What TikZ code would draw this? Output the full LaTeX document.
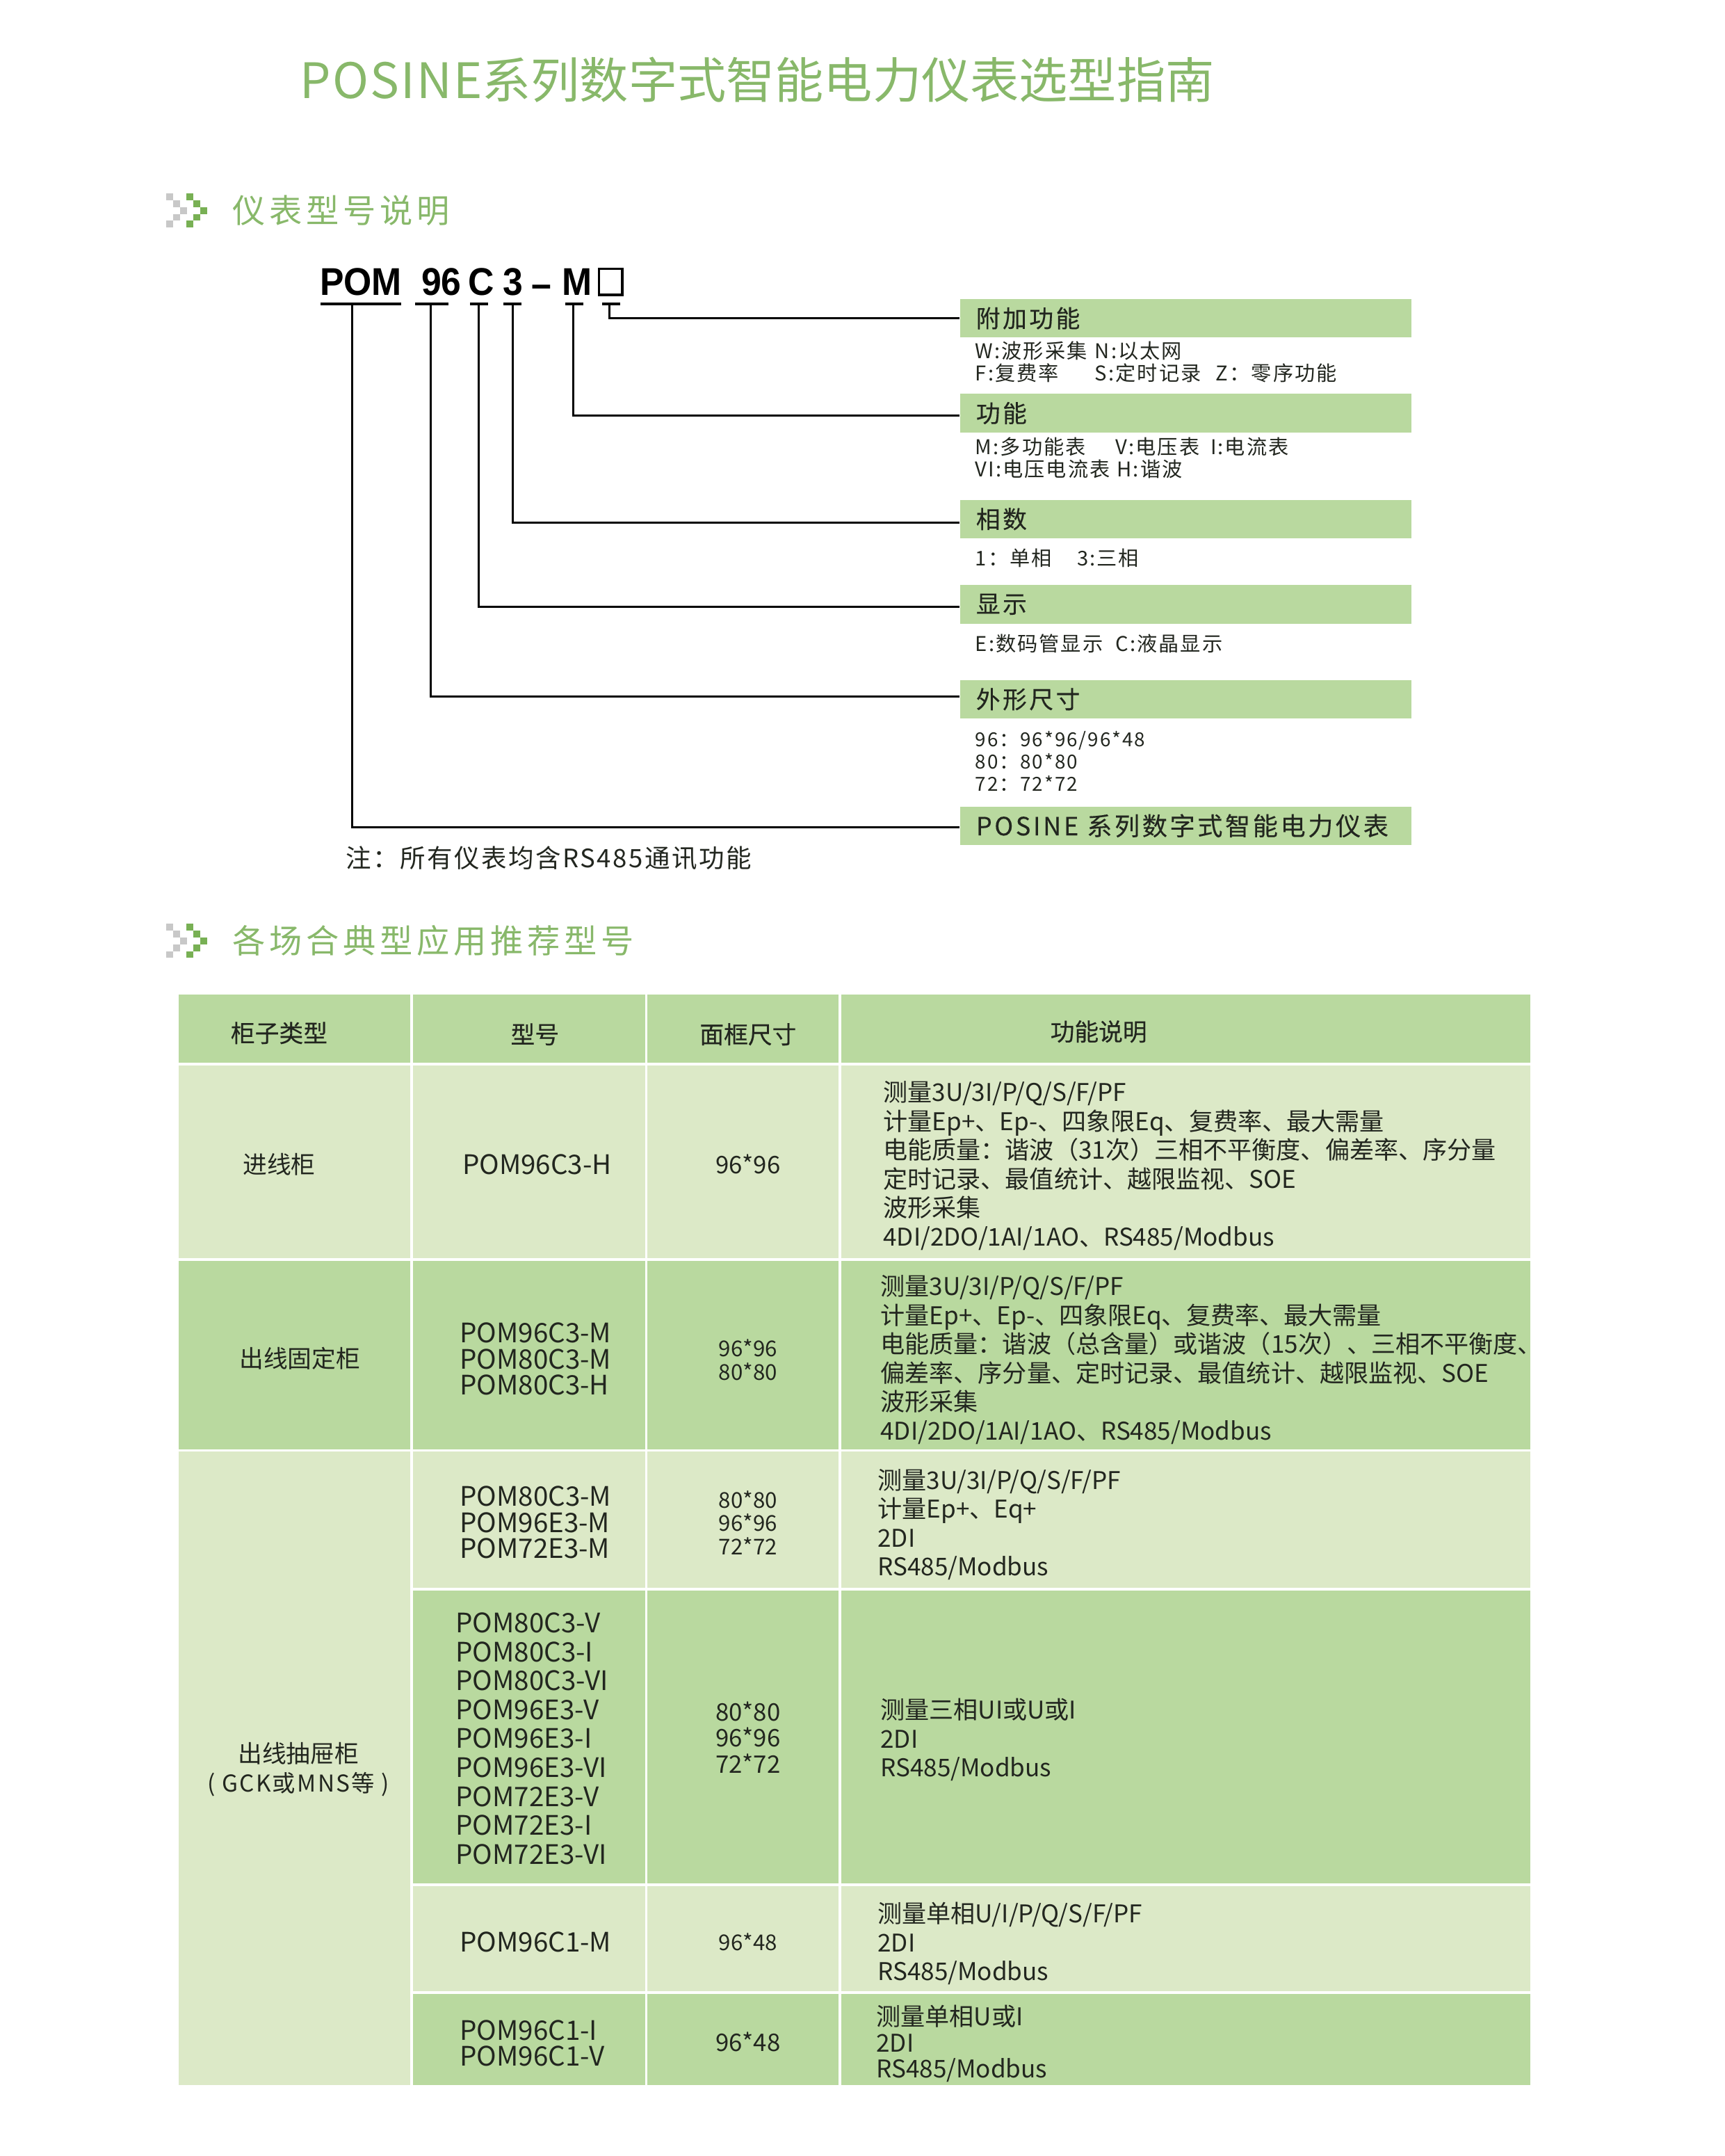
\documentclass[tikz,border=0pt]{standalone}
\usepackage{fontspec}
\usepackage{tikz}
\setmainfont{Noto Sans CJK SC}
\newfontfamily\spacedfont[LetterSpace=7]{Noto Sans CJK SC}
\newfontfamily\headfont[LetterSpace=12]{Noto Sans CJK SC}
\newfontfamily\barfont[LetterSpace=10,FakeBold=0.3]{Noto Sans CJK SC}
\newfontfamily\thfont[FakeBold=0.3]{Noto Sans CJK SC}
\newfontfamily\posfont[LetterSpace=3]{Noto Sans CJK SC}
\newfontfamily\codefont[FakeStretch=0.93]{Liberation Sans}

\definecolor{titlegreen}{HTML}{88B86A}
\definecolor{rowdark}{HTML}{B9D99F}
\definecolor{rowlight}{HTML}{DCE9C7}
\definecolor{markgreen}{HTML}{78B054}
\definecolor{markgray}{HTML}{C8C8C8}
\definecolor{inktext}{HTML}{22261F}

\tikzset{
  barbox/.style={fill=rowdark, anchor=north west, inner ysep=0pt, inner xsep=2.3mm,
    minimum width=65.6mm, minimum height=5.6mm, text width=61mm, align=left,
    text=inktext, font=\barfont\fontsize{10}{12}\selectfont},
  bartext/.style={anchor=west, inner sep=0pt, text=inktext, align=left, xshift=-0.2mm,
    font=\spacedfont\fontsize{8.4}{9.2}\selectfont},
  codetext/.style={inner sep=0pt, text=black, font=\codefont\bfseries\fontsize{16}{18}\selectfont},
  tick/.style={fill=black, inner sep=0pt, minimum height=0.35mm},
  sechead/.style={anchor=west, inner sep=0pt, text=titlegreen,
    font=\headfont\fontsize{13.6}{15}\selectfont},
  thtext/.style={inner sep=0pt, text=inktext, font=\thfont\fontsize{10}{11}\selectfont},
  celltext/.style={inner sep=0pt, text=inktext, align=center, font=\fontsize{10}{11.9}\selectfont},
  modeltext/.style={inner sep=0pt, text=inktext, align=left, anchor=west},
  functext/.style={anchor=west, inner sep=0pt, text=inktext, align=left,
    font=\fontsize{10.1}{11.95}\selectfont},
  conn/.style={draw=black, line width=0.3mm}
}

% pixel chevrons in front of a section heading
\newcommand{\chevronmark}[1]{
  \foreach \dx/\dy in {0/0, 10/10, 20/20, 10/30, 0/40}
   {
    \fill[markgray] (242+\dx,#1+\dy) rectangle ++(10,10);
    \fill[markgreen] (271+\dx,#1+\dy) rectangle ++(10,10);
   }
}

\begin{document}
\begin{tikzpicture}[x=0.1mm, y=-0.1mm]
\useasboundingbox (0,0) rectangle (2508,3135);

%% title and section headings
\node (maintitle) [anchor=west, inner sep=0pt, text=titlegreen, font=\fontsize{20.2}{22}\selectfont]
  at (436,116) {{\posfont POSINE}系列数字式智能电力仪表选型指南};

\chevronmark{281}
\node (headcode) [sechead] at (338,306) {仪表型号说明};
\chevronmark{1343}
\node (headuse) [sechead] at (338,1368) {各场合典型应用推荐型号};

%% model code
\node (codePom) [codetext] at (525,410) {POM};
\node (codeSize) [codetext] at (642,410) {96};
\node (codeDisp) [codetext] at (700,410) {C};
\node (codePhase) [codetext] at (746,410) {3};
\node (codeDash) [codetext] at (788,423) {–};
\node (codeFunc) [codetext] at (839,410) {M};
\node (codeAdd) [draw=black, line width=0.35mm, inner sep=0pt, minimum width=3.4mm, minimum height=3.8mm]
  at (888,410) {};

\node (tickPom) [tick, minimum width=11.8mm] at (525,442) {};
\node (tickSize) [tick, minimum width=4.8mm] at (628,442) {};
\node (tickDisp) [tick, minimum width=2.6mm] at (697,442) {};
\node (tickPhase) [tick, minimum width=2.6mm] at (745,442) {};
\node (tickFunc) [tick, minimum width=2.6mm] at (835,442) {};
\node (tickAdd) [tick, minimum width=2.6mm] at (889,442) {};

%% green bars with their explanations
\node (barAdd) [barbox] at (1396,434) {附加功能};
\node (barFunc) [barbox] at (1396,572) {功能};
\node (barPhase) [barbox] at (1396,726) {相数};
\node (barDisp) [barbox] at (1396,850) {显示};
\node (barSize) [barbox] at (1396,988) {外形尺寸};
\node (barSeries) [barbox, font=\barfont\fontsize{10.4}{12}\selectfont] at (1396,1172)
  {POSINE 系列数字式智能电力仪表};

\node (noteW) [bartext] at (1420,510) {W:波形采集};
\node (noteN) [bartext] at (1594,510) {N:以太网};
\node (noteF) [bartext] at (1420,542) {F:复费率};
\node (noteS) [bartext] at (1594,542) {S:定时记录};
\node (noteZ) [bartext] at (1770,542) {Z：零序功能};
\node (noteM) [bartext] at (1420,650) {M:多功能表};
\node (noteV) [bartext] at (1624,650) {V:电压表};
\node (noteI) [bartext] at (1762,650) {I:电流表};
\node (noteVI) [bartext] at (1420,682) {VI:电压电流表};
\node (noteH) [bartext] at (1626,682) {H:谐波};
\node (noteOne) [bartext] at (1420,811) {1：单相};
\node (noteThree) [bartext] at (1568,811) {3:三相};
\node (noteE) [bartext] at (1420,936) {E:数码管显示};
\node (noteC) [bartext] at (1624,936) {C:液晶显示};
\node (noteDim) [bartext, font=\spacedfont\fontsize{8}{9.2}\selectfont] at (1420,1107)
  {96：96*96/96*48\\80：80*80\\72：72*72};

\node (footnote) [anchor=west, inner sep=0pt, text=inktext, font=\spacedfont\fontsize{10.5}{12}\selectfont]
  at (502,1248) {注：所有仪表均含RS485通讯功能};

%% connectors
\coordinate (tapPom) at (512,442);
\coordinate (tapSize) at (626,442);
\coordinate (tapDisp) at (696,442);
\coordinate (tapPhase) at (746,442);
\coordinate (tapFunc) at (834,442);
\coordinate (tapAdd) at (886,442);
\draw[conn] (tapAdd) |- (barAdd.west);
\draw[conn] (tapFunc) |- ([yshift=-0.4mm]barFunc.west);
\draw[conn] (tapPhase) |- ([yshift=-0.5mm]barPhase.west);
\draw[conn] (tapDisp) |- ([yshift=-0.4mm]barDisp.west);
\draw[conn] (tapSize) |- ([yshift=0.4mm]barSize.west);
\draw[conn] (tapPom) |- ([yshift=-0.2mm]barSeries.west);

%% table cells
\foreach \ya/\yb/\rowcol in {1446/1545/rowdark, 1549/1829/rowlight, 1833/2107/rowdark,
    2111/3032/rowlight}
  \fill[\rowcol] (260,\ya) rectangle (597,\yb);
\foreach \xa/\xb in {601/938, 942/1220, 1224/2226}
  \foreach \ya/\yb/\rowcol in {1446/1545/rowdark, 1549/1829/rowlight, 1833/2107/rowdark,
    2111/2309/rowlight, 2313/2739/rowdark, 2743/2895/rowlight, 2899/3032/rowdark}
    \fill[\rowcol] (\xa,\ya) rectangle (\xb,\yb);

%% table head
\node (thKind) [thtext] at (406,1502) {柜子类型};
\node (thModel) [thtext] at (778,1504) {型号};
\node (thSize) [thtext] at (1088,1504) {面框尺寸};
\node (thFunc) [thtext] at (1598,1500) {功能说明};

%% first column
\node (kindIn) [celltext] at (406,1693) {进线柜};
\node (kindFix) [celltext] at (436,1975) {出线固定柜};
\node (kindDraw) [celltext] at (434,2573) {出线抽屉柜\\{\spacedfont\fontsize{9.6}{11.9}\selectfont ( GCK或MNS等 )}};

%% models
\node (modelA) [modeltext, font=\fontsize{11.1}{10.8}\selectfont] at (672,1693) {POM96C3-H};
\node (modelB) [modeltext, font=\fontsize{11.1}{10.8}\selectfont] at (668,1976)
  {POM96C3-M\\POM80C3-M\\POM80C3-H};
\node (modelC) [modeltext, font=\fontsize{11.1}{10.8}\selectfont] at (668,2214)
  {POM80C3-M\\POM96E3-M\\POM72E3-M};
\node (modelD) [modeltext, font=\fontsize{11.1}{11.95}\selectfont] at (662,2528)
  {POM80C3-V\\POM80C3-I\\POM80C3-VI\\POM96E3-V\\POM96E3-I\\POM96E3-VI\\POM72E3-V\\POM72E3-I\\POM72E3-VI};
\node (modelE) [modeltext, font=\fontsize{11.1}{10.8}\selectfont] at (668,2824) {POM96C1-M};
\node (modelF) [modeltext, font=\fontsize{11.1}{10.8}\selectfont] at (668,2971)
  {POM96C1-I\\POM96C1-V};

%% frame sizes
\node (sizeA) [celltext, font=\fontsize{10}{11}\selectfont] at (1088,1693) {96*96};
\node (sizeB) [celltext, font=\fontsize{9}{9.7}\selectfont] at (1088,1977) {96*96\\80*80};
\node (sizeC) [celltext, font=\fontsize{9}{9.7}\selectfont] at (1088,2214) {80*80\\96*96\\72*72};
\node (sizeD) [celltext, font=\fontsize{10}{10.8}\selectfont] at (1088,2526) {80*80\\96*96\\72*72};
\node (sizeE) [celltext, font=\fontsize{9}{9.7}\selectfont] at (1088,2824) {96*48};
\node (sizeF) [celltext, font=\fontsize{10}{11}\selectfont] at (1088,2969) {96*48};

%% functions
\node (funcA) [functext] at (1284,1695)
 {测量3U/3I/P/Q/S/F/PF\\计量Ep+、Ep-、四象限Eq、复费率、最大需量\\电能质量：谐波（31次）三相不平衡度、偏差率、序分量\\定时记录、最值统计、越限监视、SOE\\波形采集\\4DI/2DO/1AI/1AO、RS485/Modbus};
\node (funcB) [functext] at (1280,1977)
 {测量3U/3I/P/Q/S/F/PF\\计量Ep+、Ep-、四象限Eq、复费率、最大需量\\电能质量：谐波（总含量）或谐波（15次）、三相不平衡度、\\偏差率、序分量、定时记录、最值统计、越限监视、SOE\\波形采集\\4DI/2DO/1AI/1AO、RS485/Modbus};
\node (funcC) [functext] at (1276,2217)
 {测量3U/3I/P/Q/S/F/PF\\计量Ep+、Eq+\\2DI\\RS485/Modbus};
\node (funcD) [functext] at (1280,2530) {测量三相UI或U或I\\2DI\\RS485/Modbus};
\node (funcE) [functext] at (1276,2826) {测量单相U/I/P/Q/S/F/PF\\2DI\\RS485/Modbus};
\node (funcF) [functext, font=\fontsize{10.1}{10.8}\selectfont] at (1274,2972) {测量单相U或I\\2DI\\RS485/Modbus};

\end{tikzpicture}
\end{document}
